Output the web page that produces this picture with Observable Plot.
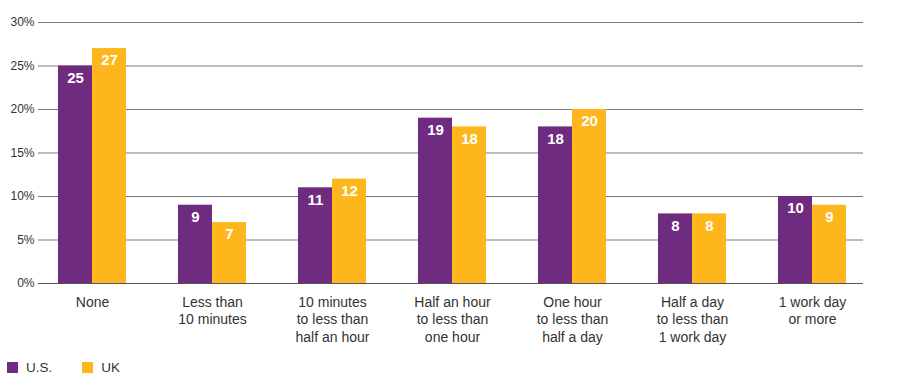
<!DOCTYPE html>
<html>
<head>
<meta charset="utf-8">
<script src="https://cdn.jsdelivr.net/npm/d3@7"></script>
<script src="https://cdn.jsdelivr.net/npm/@observablehq/plot@0.6"></script>
<style>
  html, body { margin: 0; padding: 0; background: #fff; }
  body { width: 900px; height: 387px; overflow: hidden; font-family: "Liberation Sans", Arial, sans-serif; }
  #legend { display: flex; align-items: center; height: 20px; margin-top: 5px; padding-left: 7px; font-size: 13.5px; color: #333; }
  .item { display: flex; align-items: center; margin-right: 30px; }
  .sw { width: 11px; height: 11px; margin-right: 8px; }
</style>
</head>
<body>
<div id="chart"></div>
<div id="legend"></div>
<script>
const categories = [
  "None",
  "Less than\n10 minutes",
  "10 minutes\nto less than\nhalf an hour",
  "Half an hour\nto less than\none hour",
  "One hour\nto less than\nhalf a day",
  "Half a day\nto less than\n1 work day",
  "1 work day\nor more"
];
const seriesNames = ["U.S.", "UK"];
const usValues = [25, 9, 11, 19, 18, 8, 10];
const ukValues = [27, 7, 12, 18, 20, 8, 9];
const yTicks = [0, 5, 10, 15, 20, 25, 30];
const colors = ["#6e2b7f", "#fdb61b"];

const usRows = categories.map((c, i) => ({category: c, series: "U.S.", value: usValues[i]}));
const ukRows = categories.map((c, i) => ({category: c, series: "UK", value: ukValues[i]}));

const half = 34;

const chart = Plot.plot({
  width: 900,
  height: 352,
  marginLeft: 38,
  marginRight: 37,
  marginTop: 22,
  marginBottom: 69,
  style: {fontFamily: "'Liberation Sans', Arial, sans-serif", color: "#333", background: "#fff"},
  x: {domain: categories, paddingInner: 0.435, paddingOuter: 0.1455, align: 0.54, label: null},
  y: {domain: [0, 30], label: null},
  marks: [
    Plot.ruleY(yTicks, {stroke: "#7a7a7a", strokeWidth: 1}),
    Plot.barY(usRows, {x: "category", y: "value", fill: colors[0], insetRight: half, insetLeft: 0}),
    Plot.barY(ukRows, {x: "category", y: "value", fill: colors[1], insetLeft: half, insetRight: 0}),
    Plot.ruleY([0], {stroke: "#555", strokeWidth: 1}),
    Plot.text(usRows, {x: "category", y: "value", text: d => String(d.value), dx: -half / 2, dy: 12, fill: "white", fontWeight: "bold", fontSize: 15}),
    Plot.text(ukRows, {x: "category", y: "value", text: d => String(d.value), dx: half / 2, dy: 12, fill: "white", fontWeight: "bold", fontSize: 15}),
    Plot.axisY({ticks: yTicks, tickSize: 0, tickPadding: 4, tickFormat: d => d + "%", fontSize: 12, label: null}),
    Plot.axisX({tickSize: 0, tickPadding: 11, fontSize: 14, lineHeight: 1.25, label: null})
  ]
});
document.getElementById("chart").appendChild(chart);

const legend = document.getElementById("legend");
seriesNames.forEach((name, i) => {
  const item = document.createElement("div");
  item.className = "item";
  const sw = document.createElement("div");
  sw.className = "sw";
  sw.style.background = colors[i];
  const label = document.createElement("span");
  label.textContent = name;
  item.appendChild(sw);
  item.appendChild(label);
  legend.appendChild(item);
});
</script>
</body>
</html>
